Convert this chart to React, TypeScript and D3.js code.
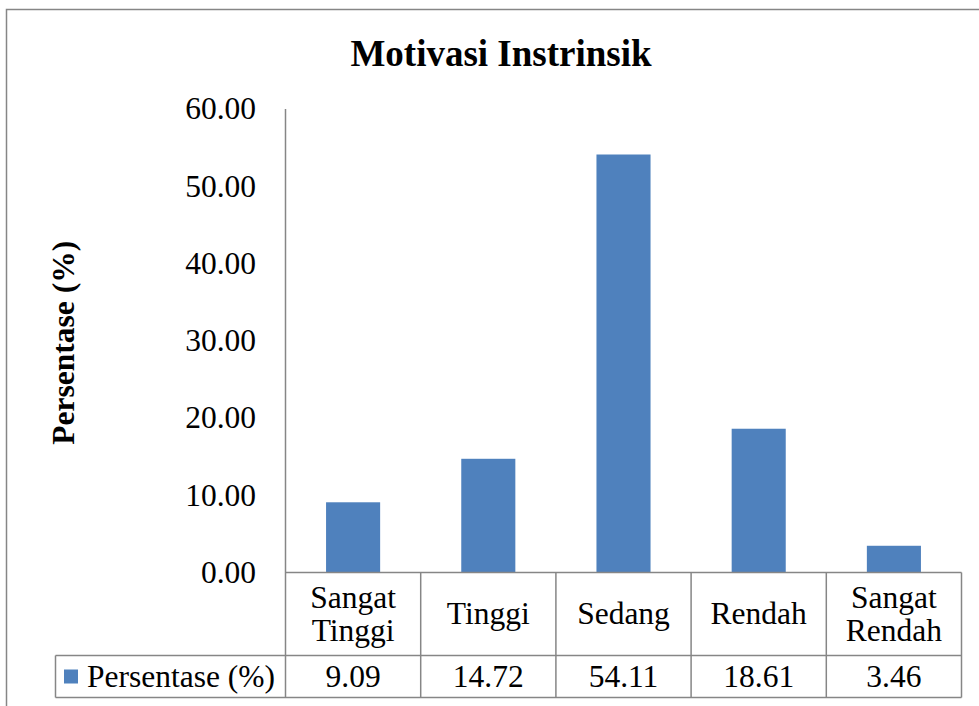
import { useEffect, useRef } from 'react';
import * as d3 from 'd3';

const categories = [['Sangat', 'Tinggi'], ['Tinggi'], ['Sedang'], ['Rendah'], ['Sangat', 'Rendah']];
const values = [9.09, 14.72, 54.11, 18.61, 3.46];
const valueLabels = ['9.09', '14.72', '54.11', '18.61', '3.46'];
const yTicks = [0, 10, 20, 30, 40, 50, 60];
const seriesName = 'Persentase (%)';

const App = () => {
  const svgRef = useRef(null);

  useEffect(() => {
    const svg = d3.select(svgRef.current);
    svg.selectAll('*').remove();

    const width = 979;
    const height = 706;
    const font = '"Liberation Serif", "Times New Roman", serif';
    const gray = '#868686';
    const blue = '#4F81BD';

    // plot area
    const left = 285.5, right = 961.5, top = 109, bottom = 572.5;
    const rowTop = 655.5, rowBottom = 697.5, legendLeft = 55.5;

    const keys = categories.map((c, i) => String(i));
    const x = d3.scaleBand().domain(keys).range([left, right]).paddingInner(0.6).paddingOuter(0.3);
    const step = x.step();
    const y = d3.scaleLinear().domain([0, 60]).range([bottom, top]);

    // chart border
    svg.append('rect')
      .attr('x', 6.5).attr('y', 9.5)
      .attr('width', width + 20).attr('height', height + 20)
      .attr('fill', 'white').attr('stroke', gray).attr('stroke-width', 1.5);

    svg.append('text')
      .attr('x', 501).attr('y', 66)
      .attr('text-anchor', 'middle')
      .style('font', `bold 37px ${font}`)
      .text('Motivasi Instrinsik');

    // y ticks
    svg.append('g')
      .selectAll('text')
      .data(yTicks)
      .join('text')
      .attr('x', 256).attr('y', d => y(d))
      .attr('dy', '0.33em')
      .attr('text-anchor', 'end')
      .style('font', `31.5px ${font}`)
      .text(d => d3.format('.2f')(d));

    svg.append('text')
      .attr('transform', `translate(74,${(top + bottom) / 2 + 2}) rotate(-90)`)
      .attr('text-anchor', 'middle')
      .style('font', `bold 31.5px ${font}`)
      .text(seriesName);

    // bars
    svg.append('g')
      .selectAll('rect')
      .data(values)
      .join('rect')
      .attr('x', (d, i) => x(keys[i]))
      .attr('width', x.bandwidth())
      .attr('y', d => y(d))
      .attr('height', d => bottom - y(d))
      .attr('fill', blue);

    const lines = svg.append('g').attr('stroke', gray).attr('stroke-width', 1.5).attr('fill', 'none');
    // axis + table lines
    lines.append('line').attr('x1', left).attr('x2', left).attr('y1', top).attr('y2', rowBottom);
    lines.append('line').attr('x1', left).attr('x2', right).attr('y1', bottom).attr('y2', bottom);
    lines.append('line').attr('x1', legendLeft).attr('x2', right).attr('y1', rowTop).attr('y2', rowTop);
    lines.append('line').attr('x1', legendLeft).attr('x2', right).attr('y1', rowBottom).attr('y2', rowBottom);
    lines.append('line').attr('x1', legendLeft).attr('x2', legendLeft).attr('y1', rowTop).attr('y2', rowBottom);
    keys.forEach((k, i) => {
      const xr = left + step * (i + 1);
      lines.append('line').attr('x1', xr).attr('x2', xr).attr('y1', bottom).attr('y2', rowBottom);
    });

    // category labels
    const catG = svg.append('g').style('font', `31.5px ${font}`).attr('text-anchor', 'middle');
    categories.forEach((c, i) => {
      const cx = x(keys[i]) + x.bandwidth() / 2;
      const lh = 33;
      const cy = (bottom + rowTop) / 2 - ((c.length - 1) * lh) / 2;
      c.forEach((line, j) => {
        catG.append('text').attr('x', cx).attr('y', cy + j * lh).attr('dy', '0.33em').text(line);
      });
    });

    // value row
    const rowY = (rowTop + rowBottom) / 2;
    svg.append('g')
      .style('font', `31.5px ${font}`)
      .attr('text-anchor', 'middle')
      .selectAll('text')
      .data(valueLabels)
      .join('text')
      .attr('x', (d, i) => x(keys[i]) + x.bandwidth() / 2)
      .attr('y', rowY)
      .attr('dy', '0.33em')
      .text(d => d);

    svg.append('rect').attr('x', 64).attr('y', rowY - 7).attr('width', 14).attr('height', 14).attr('fill', blue);
    svg.append('text')
      .attr('x', 87).attr('y', rowY).attr('dy', '0.33em')
      .style('font', `31.5px ${font}`)
      .text(seriesName);
  }, []);

  return (
    <svg ref={svgRef} width={979} height={706}
      style={{ position: 'absolute', left: 0, top: 0, background: 'white' }} />
  );
};

export default App;
